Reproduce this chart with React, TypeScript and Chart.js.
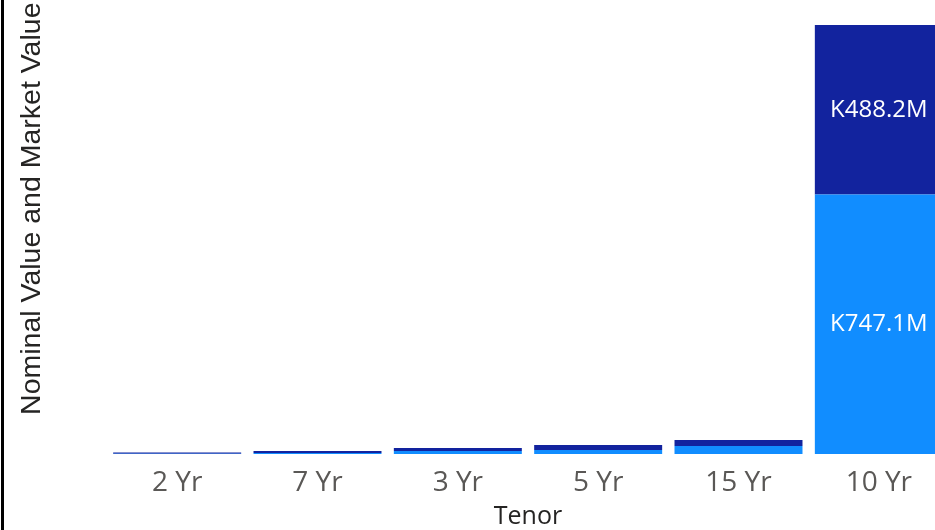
import React, { useEffect, useRef } from "react";
import { Chart, registerables } from "chart.js";

Chart.register(...registerables);

const categories = ["2 Yr", "7 Yr", "3 Yr", "5 Yr", "15 Yr", "10 Yr"];
const nominalValue = [0.5, 2.9, 8.7, 11.6, 23.2, 747.1];
const marketValue = [4.0, 5.8, 8.7, 14.5, 17.4, 488.2];
const yAxisMax = 1300;
const xTitle = "Tenor";
const yTitle = "Nominal Value and Market Value";

const labelPlugin = {
  id: "segmentLabels",
  afterDatasetsDraw(chart: any) {
    const ctx = chart.ctx;
    ctx.save();
    ctx.font = "24px 'Open Sans'";
    ctx.fillStyle = "#ffffff";
    ctx.textAlign = "center";
    ctx.textBaseline = "middle";
    chart.data.datasets.forEach((ds: any, di: number) => {
      const meta = chart.getDatasetMeta(di);
      meta.data.forEach((el: any, i: number) => {
        const v = ds.data[i];
        if (Math.abs(el.base - el.y) > 40) {
          ctx.fillText("K" + v.toFixed(1) + "M", el.x, (el.y + el.base) / 2);
        }
      });
    });
    ctx.restore();
  },
};

export default function App() {
  const ref = useRef<HTMLCanvasElement>(null);
  useEffect(() => {
    if (!ref.current) return;
    const chart = new Chart(ref.current, {
      type: "bar",
      data: {
        labels: categories,
        datasets: [
          { label: "Nominal Value", data: nominalValue, backgroundColor: "#118DFF", barPercentage: 0.912, categoryPercentage: 1 },
          { label: "Market Value", data: marketValue, backgroundColor: "#12239E", barPercentage: 0.912, categoryPercentage: 1 },
        ],
      },
      options: {
        responsive: false,
        animation: false,
        devicePixelRatio: 1,
        layout: { padding: { left: 0, right: 11, top: 2.5, bottom: 0 } },
        plugins: { legend: { display: false }, tooltip: { enabled: false } },
        scales: {
          x: {
            stacked: true,
            grid: { display: false, drawTicks: false },
            border: { display: false },
            ticks: { color: "#5A5856", font: { family: "'Open Sans'", size: 28 }, padding: 12, maxRotation: 0 },
            title: { display: true, text: xTitle, color: "#252423", font: { family: "'Open Sans'", size: 25, lineHeight: 1 }, padding: { top: 0, bottom: 0.5 } },
            afterFit: (s: any) => { s.height = 76; },
          },
          y: {
            stacked: true,
            min: 0,
            max: yAxisMax,
            grid: { display: false, drawTicks: false },
            border: { display: false },
            ticks: { display: false },
            title: { display: true, text: yTitle, align: "end", color: "#252423", font: { family: "'Liberation Sans'", size: 28.5 }, padding: { top: 15.1, bottom: 0 } },
            afterFit: (s: any) => { s.width = 107; },
          },
        },
      },
      plugins: [labelPlugin],
    });
    return () => chart.destroy();
  }, []);
  return (
    <div style={{ position: "fixed", left: 0, top: 0, width: 935, height: 530, overflow: "hidden", background: "#fff" }}>
      <canvas ref={ref} width={960} height={530} style={{ position: "absolute", left: 0, top: 0 }} />
      <div style={{ position: "absolute", left: 1, top: 0, width: 3, height: 530, background: "#000" }} />
    </div>
  );
}
